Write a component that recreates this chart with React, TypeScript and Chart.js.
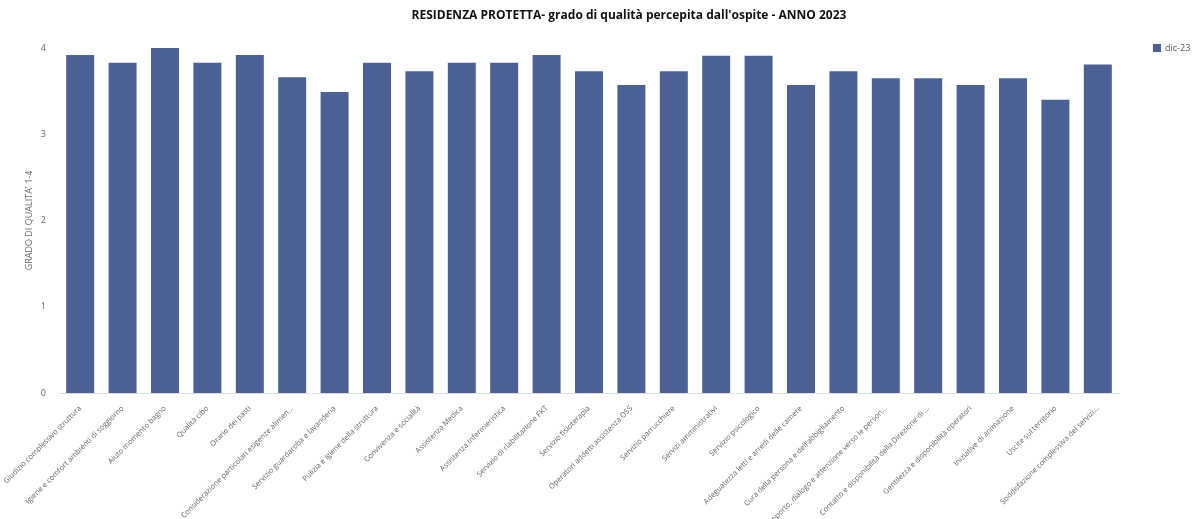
import React, { useEffect, useRef } from "react";
import { Chart, registerables } from "chart.js";

Chart.register(...registerables);

const categories: string[] = [
  "Giudizio complessivo struttura",
  "Igiene e comfort ambienti di soggiorno",
  "Aiuto momento bagno",
  "Qualità cibo",
  "Orario dei pasti",
  "Considerazione particolari esigenze alimen...",
  "Servizio guardaroba e lavanderia",
  "Pulizia e igiene della struttura",
  "Convivenza e socialità",
  "Assistenza Medica",
  "Assistenza Infermieristica",
  "Servizio di riabilitazione FKT",
  "Servizio fisioterapia",
  "Operatori addetti assistenza OSS",
  "Servizio parrucchiere",
  "Servizi amministrativi",
  "Servizio psicologico",
  "Adeguatezza letti e arredi delle camere",
  "Cura della persona e dell'abbigliamento",
  "Rapporto, dialogo e attenzione verso le person...",
  "Contatto e disponibilità della Direzione di ...",
  "Gentilezza e disponibilità operatori",
  "Iniziative di animazione",
  "Uscite sul territorio",
  "Soddisfazione complessiva del servizi...",
];

const seriesLabel = "dic-23";
const values: number[] = [
  3.92, 3.83, 4.0, 3.83, 3.92, 3.66, 3.49, 3.83, 3.73, 3.83, 3.83, 3.92, 3.73,
  3.57, 3.73, 3.91, 3.91, 3.57, 3.73, 3.65, 3.65, 3.57, 3.65, 3.4, 3.81,
];

const yTicks: number[] = [0, 1, 2, 3, 4];
const titleText = "RESIDENZA PROTETTA- grado di qualità percepita dall'ospite - ANNO 2023";
const yTitle = "GRADO DI QUALITA' 1-4";
const barColor = "#4b6094";

const extras = {
  id: "extras",
  afterDraw(chart: any) {
    const ctx = chart.ctx;
    const area = chart.chartArea;
    const ds = chart.data.datasets[0];
    ctx.save();
    // title
    ctx.fillStyle = "#111";
    ctx.font = "bold 12px 'Open Sans'";
    ctx.textAlign = "center";
    ctx.textBaseline = "middle";
    ctx.fillText(titleText, 629, 16);
    // legend
    const x = area.right + 34;
    const y = area.top;
    ctx.fillStyle = ds.backgroundColor;
    ctx.fillRect(x, y - 4, 8, 8);
    ctx.fillStyle = "#555";
    ctx.font = "9px 'Open Sans'";
    ctx.textAlign = "left";
    ctx.fillText(ds.label, x + 12, y);
    ctx.restore();
  },
};

export default function App() {
  const ref = useRef<HTMLCanvasElement | null>(null);
  useEffect(() => {
    if (!ref.current) return;
    const chart = new Chart(ref.current, {
      type: "bar",
      data: {
        labels: categories,
        datasets: [
          {
            label: seriesLabel,
            data: values,
            backgroundColor: barColor,
            borderWidth: 0,
            categoryPercentage: 0.66,
            barPercentage: 1,
          },
        ],
      },
      plugins: [extras],
      options: {
        animation: false,
        responsive: false,
        maintainAspectRatio: false,
        layout: { padding: { left: 24, right: 73, top: 48, bottom: 0 } },
        plugins: {
          title: { display: false },
          legend: { display: false },
          tooltip: { enabled: false },
        },
        scales: {
          x: {
            grid: { display: false },
            border: { color: "#ddd" },
            afterFit: (axis: any) => {
              axis.height = 126;
            },
            ticks: {
              minRotation: 45,
              maxRotation: 45,
              autoSkip: false,
              font: { family: "Open Sans", size: 7.5 },
              color: "#666",
            },
          },
          y: {
            min: 0,
            max: 4,
            afterBuildTicks: (axis: any) => {
              axis.ticks = yTicks.map((v) => ({ value: v }));
            },
            afterFit: (axis: any) => {
              axis.width = 35;
            },
            grid: { display: false },
            border: { display: false },
            ticks: {
              font: { family: "Open Sans", size: 9 },
              color: "#666",
              padding: 5,
            },
            title: {
              display: true,
              text: yTitle,
              font: { family: "Open Sans", size: 9 },
              color: "#666",
              padding: { top: 0, bottom: 0 },
            },
          },
        },
      },
    });
    return () => chart.destroy();
  }, []);
  return (
    <div style={{ position: "fixed", left: 0, top: 0, width: 1192, height: 519, background: "#fff" }}>
      <canvas ref={ref} width={1192} height={519} style={{ width: 1192, height: 519 }} />
    </div>
  );
}
